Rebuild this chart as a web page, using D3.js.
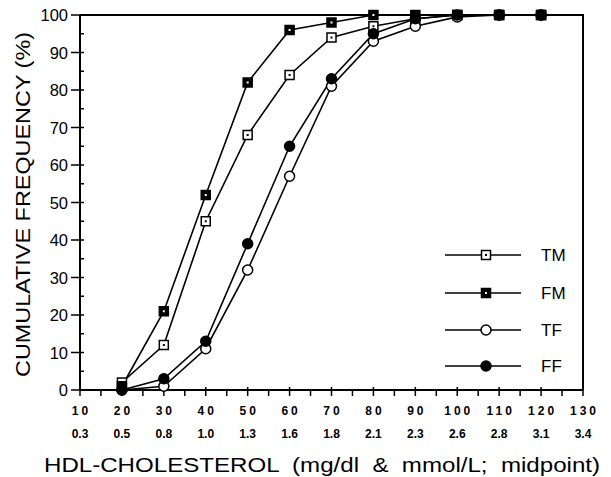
<!DOCTYPE html>
<html>
<head>
<meta charset="utf-8">
<script src="https://cdn.jsdelivr.net/npm/d3@7"></script>
<style>
  body { margin: 0; background: #fff; }
  text { font-family: "Liberation Sans", Arial, sans-serif; fill: #000; }
</style>
</head>
<body>
<svg id="chart"></svg>
<script>
// midpoints, mg/dl
const hdl = [20, 30, 40, 50, 60, 70, 80, 90, 100, 110, 120];
const tm = [2, 12, 45, 68, 84, 94, 97, 99, 100, 100, 100];
const fm = [1, 21, 52, 82, 96, 98, 100, 100, 100, 100, 100];
const tf = [0, 1, 11, 32, 57, 81, 93, 97, 99.5, 100, 100];
const ff = [0, 3, 13, 39, 65, 83, 95, 99, 100, 100, 100];

const xTicks = [10, 20, 30, 40, 50, 60, 70, 80, 90, 100, 110, 120, 130];
const mmolLabels = ["0.3", "0.5", "0.8", "1.0", "1.3", "1.6", "1.8", "2.1", "2.3", "2.6", "2.8", "3.1", "3.4"];
const yTicks = [0, 10, 20, 30, 40, 50, 60, 70, 80, 90, 100];

const seriesNames = ["TM", "FM", "TF", "FF"];
const seriesVals = [tm, fm, tf, ff];
const seriesSym = ["openSq", "filledSq", "openCirc", "filledCirc"];

const W = 611, H = 477;
const pLeft = 80, pRight = 583, pTop = 15, pBottom = 390;

const svg = d3.select("#chart").attr("width", W).attr("height", H);

const x = d3.scaleLinear().domain([10, 130]).range([pLeft, pRight]);
const y = d3.scaleLinear().domain([0, 100]).range([pBottom, pTop]);

// frame top + right
svg.append("path")
  .attr("d", `M${pLeft},${pTop}H${pRight}V${pBottom}`)
  .attr("fill", "none").attr("stroke", "#000").attr("stroke-width", 2);

// x axis
const xAxis = svg.append("g").attr("transform", `translate(0,${pBottom})`);
xAxis.append("line").attr("x1", pLeft).attr("x2", pRight).attr("stroke", "#000").attr("stroke-width", 2);
xAxis.selectAll("line.tk").data(d3.range(10, 131, 5)).enter().append("line")
  .attr("class", "tk")
  .attr("x1", d => x(d)).attr("x2", d => x(d))
  .attr("y1", d => d % 10 === 0 ? -3 : -1).attr("y2", 6)
  .attr("stroke", "#000").attr("stroke-width", 1.5);
xAxis.selectAll("text.mg").data(xTicks).enter().append("text")
  .attr("class", "mg")
  .attr("x", d => x(d) + 1.5).attr("y", 25)
  .attr("text-anchor", "middle")
  .style("font-size", "12px").style("font-weight", "bold").style("letter-spacing", "3px")
  .text(d => d);
xAxis.selectAll("text.mm").data(xTicks).enter().append("text")
  .attr("class", "mm")
  .attr("x", d => x(d)).attr("y", 48)
  .attr("text-anchor", "middle")
  .style("font-size", "12px").style("font-weight", "bold")
  .text((d, i) => mmolLabels[i]);

// y axis
const yAxis = svg.append("g").attr("transform", `translate(${pLeft},0)`);
yAxis.append("line").attr("y1", pTop).attr("y2", pBottom).attr("stroke", "#000").attr("stroke-width", 2);
yAxis.selectAll("line.tk").data(d3.range(0, 101, 5)).enter().append("line")
  .attr("class", "tk")
  .attr("y1", d => y(d)).attr("y2", d => y(d))
  .attr("x1", d => d % 10 === 0 ? -9 : 0).attr("x2", 4)
  .attr("stroke", "#000").attr("stroke-width", 1.5);
yAxis.selectAll("text").data(yTicks).enter().append("text")
  .attr("x", -12).attr("y", d => y(d) + 6)
  .attr("text-anchor", "end")
  .style("font-size", "16.5px")
  .text(d => d);

// titles
svg.append("text")
  .attr("x", 322).attr("y", 472)
  .attr("text-anchor", "middle")
  .style("font-size", "21px")
  .style("white-space", "pre")
  .attr("textLength", 556)
  .attr("lengthAdjust", "spacingAndGlyphs")
  .text("HDL-CHOLESTEROL  (mg/dl  &  mmol/L;  midpoint)");
svg.append("text")
  .attr("transform", `translate(30,${(pTop + pBottom) / 2 + 2}) rotate(-90)`)
  .attr("text-anchor", "middle")
  .style("font-size", "21px")
  .attr("textLength", 345)
  .attr("lengthAdjust", "spacingAndGlyphs")
  .text("CUMULATIVE FREQUENCY (%)");

function drawSymbol(g, kind, cx, cy) {
  if (kind === "openSq" || kind === "filledSq") {
    g.append("rect")
      .attr("x", cx - 4.5).attr("y", cy - 4.5).attr("width", 9).attr("height", 9)
      .attr("fill", kind === "filledSq" ? "#000" : "#fff")
      .attr("stroke", "#000").attr("stroke-width", 1.5);
    g.append("rect")
      .attr("x", cx - 1).attr("y", cy - 1).attr("width", 2).attr("height", 2)
      .attr("fill", kind === "filledSq" ? "#fff" : "#000");
  } else {
    g.append("circle")
      .attr("cx", cx).attr("cy", cy).attr("r", 5)
      .attr("fill", kind === "filledCirc" ? "#000" : "#fff")
      .attr("stroke", "#000").attr("stroke-width", 1.5);
  }
}

const line = d3.line().x((d, i) => x(hdl[i])).y(d => y(d));

seriesVals.forEach((vals, s) => {
  svg.append("path").datum(vals)
    .attr("d", line)
    .attr("fill", "none").attr("stroke", "#000").attr("stroke-width", 1.6);
});
seriesVals.forEach((vals, s) => {
  const g = svg.append("g");
  vals.forEach((v, i) => drawSymbol(g, seriesSym[s], x(hdl[i]), y(v)));
});

// legend
const legY = [255, 293, 330, 366];
seriesNames.forEach((name, s) => {
  const g = svg.append("g");
  g.append("line").attr("x1", 445).attr("x2", 521).attr("y1", legY[s]).attr("y2", legY[s])
    .attr("stroke", "#000").attr("stroke-width", 1.6);
  drawSymbol(g, seriesSym[s], 486, legY[s]);
  g.append("text").attr("x", 541).attr("y", legY[s] + 6)
    .style("font-size", "17px").text(name);
});
</script>
</body>
</html>
